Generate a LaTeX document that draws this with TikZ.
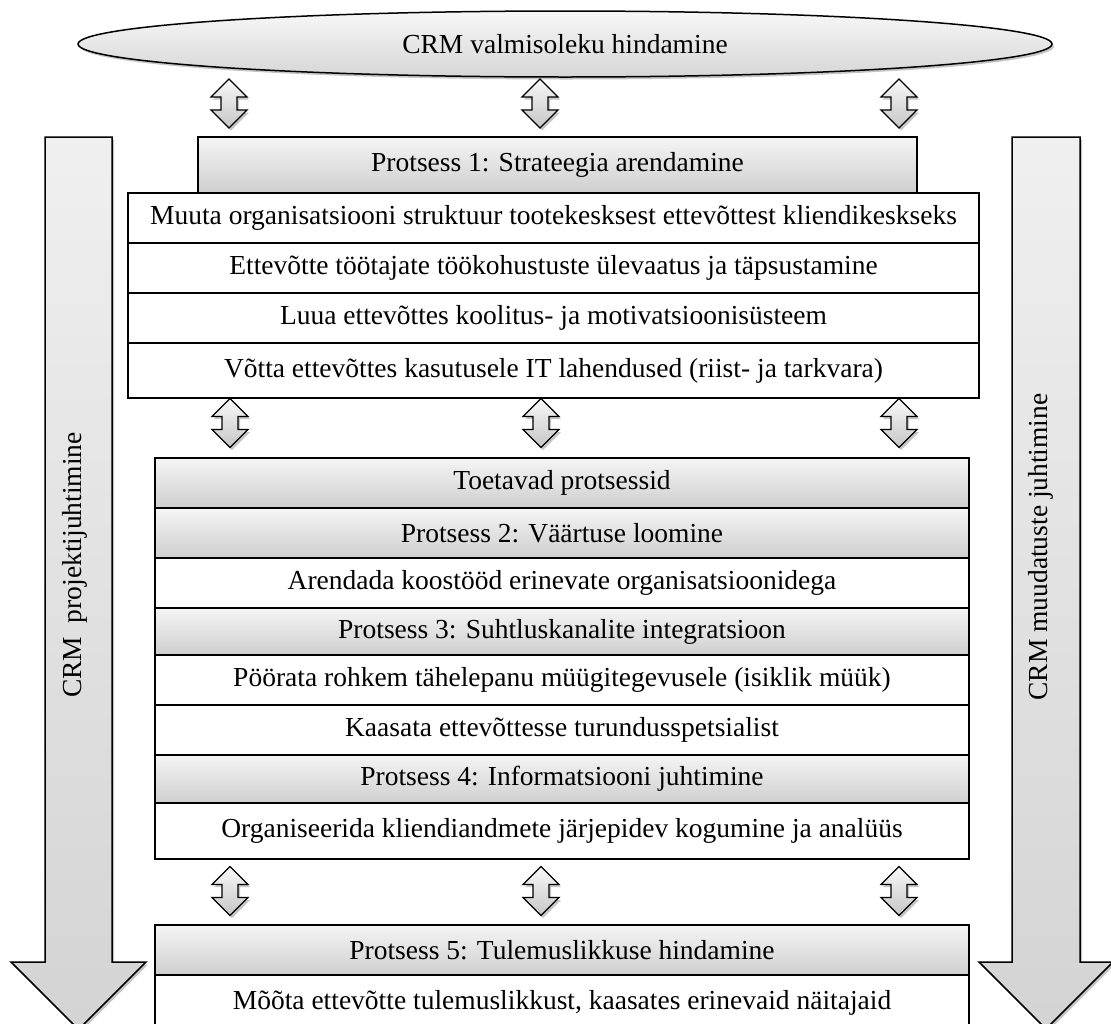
\documentclass[tikz,border=0pt]{standalone}
\usepackage{fontspec}
\setmainfont{Liberation Serif}
\usetikzlibrary{shapes.geometric, shadows}

\begin{document}
\begin{tikzpicture}[
    x=1pt, y=-1pt,
    every node/.style={font=\fontsize{27.5}{30}\selectfont, inner sep=0pt, outer sep=0pt},
    shade/.style={drop shadow={opacity=0.45, shadow xshift=2pt, shadow yshift=-2.5pt}},
    box/.style={rectangle, draw, line width=1.5pt},
    head/.style={box, top color=gray!8, bottom color=gray!38},
    row/.style={box, fill=white},
    wide/.style={minimum width=851pt},
    inner/.style={minimum width=814pt},
    bigarrow/.style={draw, line width=1.5pt, shade, top color=gray!12, bottom color=gray!34},
    updown/.pic={
        \draw[line width=1.3pt, shade, top color=gray!5, bottom color=gray!45]
            (0,-24.5) -- (18,-6.5) -- (8,-6.5) -- (8,6.5) -- (18,6.5) -- (0,24.5)
            -- (-18,6.5) -- (-8,6.5) -- (-8,-6.5) -- (-18,-6.5) -- cycle;
    }
]
\useasboundingbox (0,0) rectangle (1111,1023);

% ---- side arrows ----
\draw[bigarrow] (45,137) -- (112,137) -- (112,962) -- (146,962) -- (78.5,1029.5)
    -- (11,962) -- (45,962) -- cycle;
\draw[bigarrow] (1012,137) -- (1080,137) -- (1080,962) -- (1113,962) -- (1046,1029)
    -- (979,962) -- (1012,962) -- cycle;
\node[rotate=90] (proj) at (75,565) {CRM\ \ projektijuhtimine};
\node[rotate=90] (muud) at (1041,547) {CRM muudatuste juhtimine};

% ---- top ----
\node[ellipse, draw, line width=1.5pt, shade, top color=gray!6, bottom color=gray!32,
      minimum width=974pt, minimum height=66pt] (valm) at (565,44) {CRM valmisoleku hindamine};

\pic at (229,103.5) {updown};
\pic at (540,103.5) {updown};
\pic at (899,103.5) {updown};

% ---- protsess 1 ----
\node[head, minimum width=719pt, minimum height=56pt] (p1) at (557.5,165) {Protsess 1: Strateegia arendamine};
\node[row, wide, minimum height=50pt] (p1a) at (553.5,218) {Muuta organisatsiooni struktuur tootekesksest ettevõttest kliendikeskseks};
\node[row, wide, minimum height=50pt] (p1b) at (553.5,268) {Ettevõtte töötajate töökohustuste ülevaatus ja täpsustamine};
\node[row, wide, minimum height=50pt] (p1c) at (553.5,318) {Luua ettevõttes koolitus- ja motivatsioonisüsteem};
\node[row, wide, minimum height=55pt] (p1d) at (553.5,370.5) {Võtta ettevõttes kasutusele IT lahendused (riist- ja tarkvara)};

\pic at (230,423) {updown};
\pic at (541,423) {updown};
\pic at (899,423) {updown};

% ---- toetavad protsessid ----
\node[head, inner, minimum height=50pt] (toet) at (562,483) {Toetavad protsessid};
\node[head, inner, minimum height=50pt] (p2) at (562,533) {Protsess 2: Väärtuse loomine};
\node[row, inner, minimum height=50pt] (p2a) at (562,583) {Arendada koostööd erinevate organisatsioonidega};
\node[head, inner, minimum height=47pt] (p3) at (562,631.5) {Protsess 3: Suhtluskanalite integratsioon};
\node[row, inner, minimum height=50pt] (p3a) at (562,680) {Pöörata rohkem tähelepanu müügitegevusele (isiklik müük)};
\node[row, inner, minimum height=50pt] (p3b) at (562,730) {Kaasata ettevõttesse turundusspetsialist};
\node[head, inner, minimum height=48pt] (p4) at (562,779) {Protsess 4: Informatsiooni juhtimine};
\node[row, inner, minimum height=56pt] (p4a) at (562,831) {Organiseerida kliendiandmete järjepidev kogumine ja analüüs};

\pic at (230,891) {updown};
\pic at (541,891) {updown};
\pic at (899,891) {updown};

% ---- protsess 5 ----
\node[head, inner, minimum height=50pt] (p5) at (562,950) {Protsess 5: Tulemuslikkuse hindamine};
\node[row, inner, minimum height=55pt] (p5a) at (562,1002.5) {Mõõta ettevõtte tulemuslikkust, kaasates erinevaid näitajaid};

\end{tikzpicture}
\end{document}
